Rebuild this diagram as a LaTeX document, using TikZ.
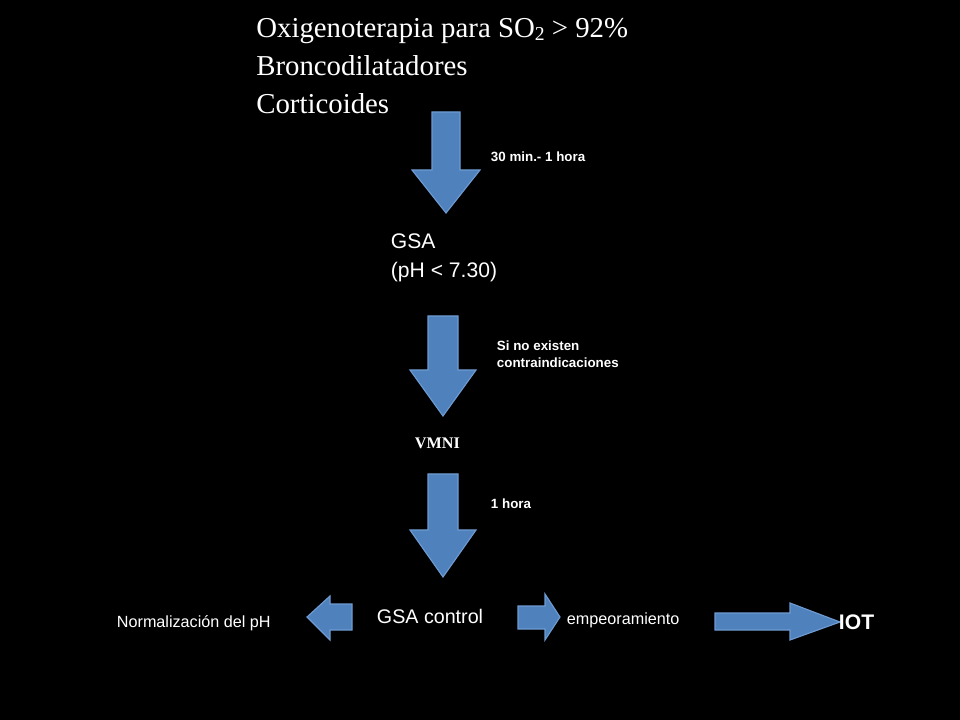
\documentclass[tikz,border=0pt]{standalone}
\usepackage{fontspec}
\setmainfont{Liberation Serif}
\setsansfont{Liberation Sans}
\begin{document}
\begin{tikzpicture}[x=0.025cm,y=-0.025cm,
  blk/.style={fill={rgb,255:red,79;green,129;blue,189},draw={rgb,255:red,110;green,155;blue,210},line width=0.8pt},
  lab/.style={text=white,font=\sffamily\bfseries\fontsize{9.5}{12}\selectfont,anchor=west,align=left},
  txt/.style={text=white,anchor=west,align=left}]
\fill[black] (0,0) rectangle (960,720);
\useasboundingbox (0,0) rectangle (960,720);
\node[txt,font=\fontsize{20.5}{27}\selectfont,anchor=north west,inner sep=0pt] (title) at (256,18)
 {Oxigenoterapia para SO\raisebox{-0.25ex}{\fontsize{14}{14}\selectfont 2} > 92\%\\Broncodilatadores\\Corticoides};
% down arrows
\draw[blk] (432,112)--(460,112)--(460,170)--(480,170)--(446,213)--(412,170)--(432,170)--cycle;
\draw[blk] (428,316)--(458,316)--(458,370)--(476,370)--(443,416)--(410,370)--(428,370)--cycle;
\draw[blk] (428,474)--(458,474)--(458,530)--(476,530)--(443,577)--(410,530)--(428,530)--cycle;
% left arrow
\draw[blk] (352,604)--(352,630)--(330,630)--(330,640)--(307,617)--(330,596)--(330,604)--cycle;
% small right arrow
\draw[blk] (518,606)--(545,606)--(545,594)--(560,617)--(545,640)--(545,629)--(518,629)--cycle;
% long right arrow
\draw[blk] (715,613)--(790,613)--(790,603)--(840,622)--(790,640)--(790,630)--(715,630)--cycle;
\node[lab] (l1) at (486,157) {30 min.- 1 hora};
\node[txt,font=\sffamily\fontsize{15}{21}\selectfont] (gsa) at (386,258) {GSA\\(pH < 7.30)};
\node[lab] (l2) at (492,354) {Si no existen\\contraindicaciones};
\node[txt,font=\bfseries\fontsize{11.5}{13}\selectfont] (vmni) at (410,443) {VMNI};
\node[lab] (l3) at (486,504) {1 hora};
\node[txt,font=\sffamily\fontsize{14}{16}\selectfont] (gc) at (372,616) {GSA control};
\node[txt,font=\sffamily\fontsize{11.5}{13}\selectfont] (np) at (112,623) {Normalización del pH};
\node[txt,font=\sffamily\fontsize{11.5}{13}\selectfont] (emp) at (562,620) {empeoramiento};
\node[txt,font=\sffamily\bfseries\fontsize{15}{17}\selectfont] (iot) at (834,622) {IOT};
\end{tikzpicture}
\end{document}
